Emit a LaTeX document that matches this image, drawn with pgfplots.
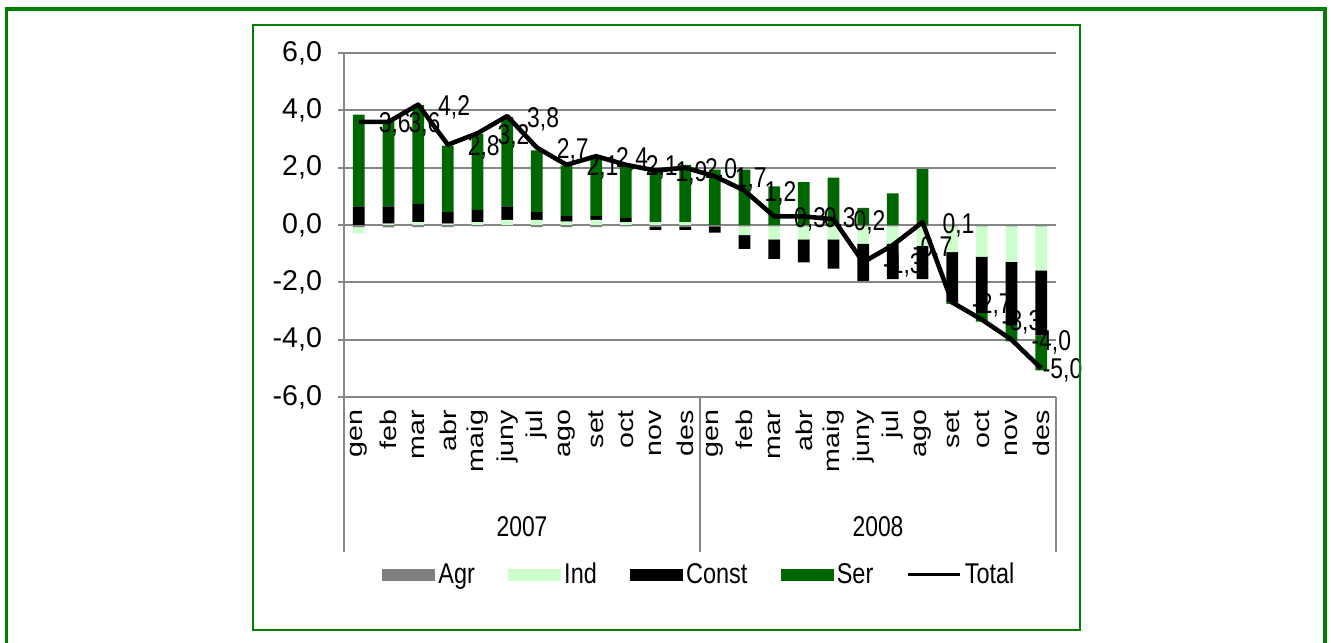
\documentclass[border=0pt]{standalone}
\usepackage{pgfplots}
\usepackage{pgfplotstable}
\pgfplotsset{compat=1.18}
\usepackage{fontspec}
\setmainfont{Liberation Sans}
\definecolor{agr}{RGB}{128,128,128}
\definecolor{ind}{RGB}{204,255,204}
\definecolor{ser}{RGB}{0,102,0}
\definecolor{framec}{RGB}{0,128,0}
\definecolor{gridc}{RGB}{134,134,134}
\newcommand{\cf}{\fontsize{14.3}{17}\selectfont}

\pgfplotstableread{
x Agr Ind Const Ser Total
0 -0.07 -0.23 0.65 3.20 3.6
1 -0.08 0.05 0.60 3.00 3.6
2 -0.07 0.10 0.64 3.45 4.2
3 -0.07 0.05 0.40 2.32 2.8
4 -0.05 0.10 0.43 2.65 3.2
5 -0.03 0.18 0.47 3.12 3.8
6 -0.07 0.18 0.27 2.15 2.7
7 -0.07 0.12 0.19 1.76 2.1
8 -0.07 0.18 0.13 2.00 2.4
9 -0.05 0.10 0.15 1.80 2.1
10 -0.07 0.10 -0.10 1.85 1.9
11 -0.07 0.10 -0.10 2.00 2.0
12 -0.05 0.00 -0.22 1.93 1.7
13 -0.05 -0.30 -0.48 1.93 1.2
14 -0.05 -0.45 -0.68 1.35 0.3
15 -0.05 -0.45 -0.80 1.50 0.3
16 -0.05 -0.45 -1.02 1.65 0.2
17 -0.05 -0.60 -1.30 0.60 -1.3
18 -0.05 -0.60 -1.24 1.10 -0.7
19 -0.05 -0.68 -1.16 1.95 0.1
20 -0.05 -0.90 -1.75 -0.05 -2.7
21 -0.05 -1.05 -1.97 -0.30 -3.3
22 -0.05 -1.24 -2.20 -0.57 -4.0
23 -0.05 -1.53 -2.27 -1.22 -5.0
}\data

\pgfplotsset{
  common/.style={
    at={(172pt,122.5pt)}, anchor=south west,
    scale only axis, width=356pt, height=172pt,
    xmin=-0.5, xmax=23.5, ymin=-6, ymax=6,
  },
  /pgf/number format/.cd, fixed, fixed zerofill, precision=1, use comma, assume math mode=true,
}

\begin{document}
\begin{tikzpicture}
\useasboundingbox (0,0) rectangle (665.5pt,321pt);
\fill[white] (0,0) rectangle (665.5pt,321pt);
% positive parts + axis decoration
\begin{axis}[common, name=main,
  ybar stacked, bar width=5.85pt,
  axis x line*=bottom, axis y line*=left,
  axis line style={gridc, line width=1pt},
  ymajorgrids, grid style={gridc, line width=1pt},
  ytick={-6,-4,...,6},
  major tick length=3pt, tick align=outside,
  ytick style={gridc, line width=1pt},
  xtick={0,...,23}, xtick style={draw=none},
  xticklabels={gen,feb,mar,abr,maig,juny,jul,ago,set,oct,nov,des,gen,feb,mar,abr,maig,juny,jul,ago,set,oct,nov,des},
  xticklabel style={font=\cf, xscale=0.8, rotate=90, anchor=east},
  yticklabel style={font=\cf, xshift=-4.5pt},
]
\addplot[fill=agr, draw=none] table[x=x, y expr={max(\thisrow{Agr},0)}] {\data};
\addplot[fill=ind, draw=none] table[x=x, y expr={max(\thisrow{Ind},0)}] {\data};
\addplot[fill=black, draw=none] table[x=x, y expr={max(\thisrow{Const},0)}] {\data};
\addplot[fill=ser, draw=none] table[x=x, y expr={max(\thisrow{Ser},0)}] {\data};
\end{axis}
% negative parts
\begin{axis}[common, hide axis, ybar stacked, bar width=5.85pt]
\addplot[fill=agr, draw=none] table[x=x, y expr={min(\thisrow{Agr},0)}] {\data};
\addplot[fill=ind, draw=none] table[x=x, y expr={min(\thisrow{Ind},0)}] {\data};
\addplot[fill=black, draw=none] table[x=x, y expr={min(\thisrow{Const},0)}] {\data};
\addplot[fill=ser, draw=none] table[x=x, y expr={min(\thisrow{Ser},0)}] {\data};
\end{axis}
% total line, labels, legend
\begin{axis}[common, hide axis, clip=false,
  legend style={draw=none, fill=none, font=\cf, nodes={xscale=0.82}, at={(0.5,-0.517)}, anchor=center,
    legend columns=-1, /tikz/every even column/.append style={column sep=15pt}},
  legend cell align=left,
]
\addplot[black, line width=2.3pt, line join=round, forget plot] table[x=x, y=Total] {\data};
\addplot[draw=none, forget plot, nodes near coords,
  every node near coord/.append style={font=\cf, xscale=0.8, anchor=west, xshift=9pt, yshift=-1.5pt, text=black},
  skip coords between index={23}{24}] table[x=x, y=Total] {\data};
\addplot[draw=none, forget plot, nodes near coords,
  every node near coord/.append style={font=\cf, xscale=0.8, anchor=west, xshift=-2.5pt, yshift=-1pt, text=black},
  skip coords between index={0}{23}] table[x=x, y=Total] {\data};
\addlegendimage{legend image code/.code={\fill[agr] (0pt,-2.7pt) rectangle (26pt,2.7pt);}}
\addlegendentry{Agr}
\addlegendimage{legend image code/.code={\fill[ind] (0pt,-2.7pt) rectangle (26pt,2.7pt);}}
\addlegendentry{Ind}
\addlegendimage{legend image code/.code={\fill[black] (0pt,-2.7pt) rectangle (26pt,2.7pt);}}
\addlegendentry{Const}
\addlegendimage{legend image code/.code={\fill[ser] (0pt,-2.7pt) rectangle (26pt,2.7pt);}}
\addlegendentry{Ser}
\addlegendimage{legend image code/.code={\draw[black, line width=1.5pt] (0pt,0pt) -- (26pt,0pt);}}
\addlegendentry{Total}
\end{axis}
\draw[gridc, line width=1pt] (main.south west) -- ++(0,-77.5pt);
\draw[gridc, line width=1pt] (main.south) -- ++(0,-77.5pt);
\draw[gridc, line width=1pt] (main.south east) -- ++(0,-77.5pt);
\node[font=\cf, xscale=0.8] at (261pt,57.5pt) {2007};
\node[font=\cf, xscale=0.8] at (439pt,57.5pt) {2008};
\draw[framec, line width=1.6pt] (3.35pt,-5pt) rectangle (662.5pt,316.5pt);
\draw[framec, line width=0.9pt] (126.3pt,6pt) rectangle (540pt,308.5pt);
\end{tikzpicture}
\end{document}
